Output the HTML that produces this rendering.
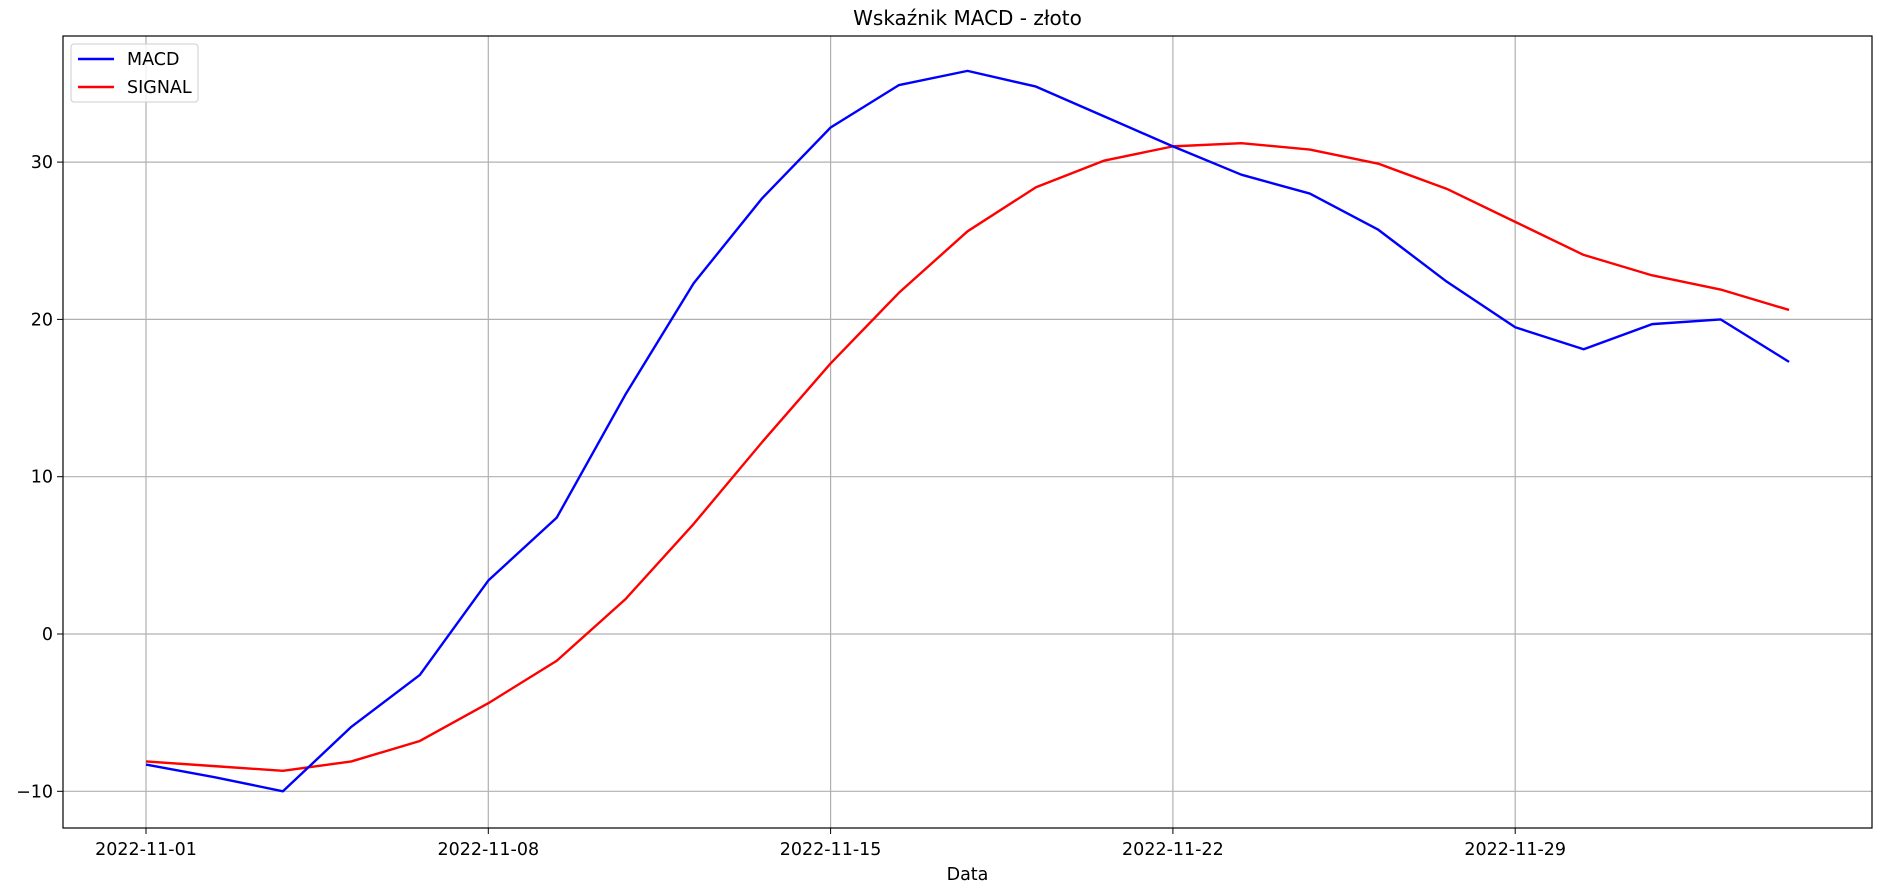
<!DOCTYPE html>
<html><head><meta charset="utf-8"><style>
html,body{margin:0;padding:0;background:#fff;}
svg{display:block;font-family:"DejaVu Sans","Liberation Sans",sans-serif;}
</style></head><body>
<svg id="chart" width="1890" height="893" viewBox="0 0 1890 893" xmlns="http://www.w3.org/2000/svg"></svg>
<script>
const macdValues=[-8.3,-9.1,-10.0,-5.9,-2.6,3.4,7.4,15.2,22.3,27.7,32.2,34.9,35.8,34.8,32.9,31.0,29.2,28.0,25.7,22.4,19.5,18.1,19.7,20.0,17.3];
const signalValues=[-8.1,-8.4,-8.7,-8.1,-6.8,-4.4,-1.7,2.2,7.0,12.2,17.2,21.7,25.6,28.4,30.1,31.0,31.2,30.8,29.9,28.3,26.2,24.1,22.8,21.9,20.6];
const xTickLabels=["2022-11-01","2022-11-08","2022-11-15","2022-11-22","2022-11-29"];
const xTickDays=[0,7,14,21,28];
const yTicks=[-10,0,10,20,30];
const NS="http://www.w3.org/2000/svg";
const svg=document.getElementById('chart');
const L=63,R=1872,T=36,B=828;
const dayPx=48.9, x0=146;
function xDay(d){return x0+d*dayPx;}
function xIdx(i){return xDay(i*1.4);}
function y(v){return 634.0-(v)*15.73;}
function el(tag,attrs){const e=document.createElementNS(NS,tag);for(const k in attrs)e.setAttribute(k,attrs[k]);svg.appendChild(e);return e;}
xTickDays.forEach((d,i)=>{
  const g=el('line',{x1:xDay(d),x2:xDay(d),y1:T,y2:B,stroke:'#b0b0b0','stroke-width':1.2});
  
  
  const tk=el('line',{x1:xDay(d),x2:xDay(d),y1:B,y2:B+6,stroke:'#000','stroke-width':1});
  
  
  const t=el('text',{x:xDay(d),y:B+27,'text-anchor':'middle','font-size':17.5});
  t.textContent=xTickLabels[i];
  
  
});
yTicks.forEach(v=>{
  const g=el('line',{x1:L,x2:R,y1:y(v),y2:y(v),stroke:'#b0b0b0','stroke-width':1.2});
  
  
  const tk=el('line',{x1:L-6,x2:L,y1:y(v),y2:y(v),stroke:'#000','stroke-width':1});
  
  
  const t=el('text',{x:L-10,y:y(v)+6,'text-anchor':'end','font-size':17.5});
  t.textContent=(v<0?'\u2212'+Math.abs(v):v);
  
  
});
function line(vals,color,name){
  const p=el('polyline',{points:vals.map((v,i)=>xIdx(i)+','+y(v)).join(' '),fill:'none',stroke:color,'stroke-width':2.4,'stroke-linejoin':'round'});
  
  
}
line(signalValues,'#ff0000','signal-line');
line(macdValues,'#0000ff','macd-line');
const fr=el('rect',{x:L,y:T,width:R-L,height:B-T,fill:'none',stroke:'#000','stroke-width':1.2});


const title=el('text',{x:(L+R)/2,y:25,'text-anchor':'middle','font-size':20});
title.textContent='Wskaźnik MACD - złoto';


const xl=el('text',{x:(L+R)/2,y:880,'text-anchor':'middle','font-size':17.5});
xl.textContent='Data';


const lg=el('rect',{x:71,y:44,width:127,height:58,rx:3,fill:'#fff','fill-opacity':0.8,stroke:'#ccc','stroke-width':1});


[['MACD','#0000ff',59],['SIGNAL','#ff0000',87]].forEach(([n,c,yy])=>{
  const l=el('line',{x1:78,x2:114,y1:yy,y2:yy,stroke:c,'stroke-width':2.4});
  
  
  const t=el('text',{x:127,y:yy+6,'font-size':17.5});
  t.textContent=n;
  
  
});
</script>
</body></html>
